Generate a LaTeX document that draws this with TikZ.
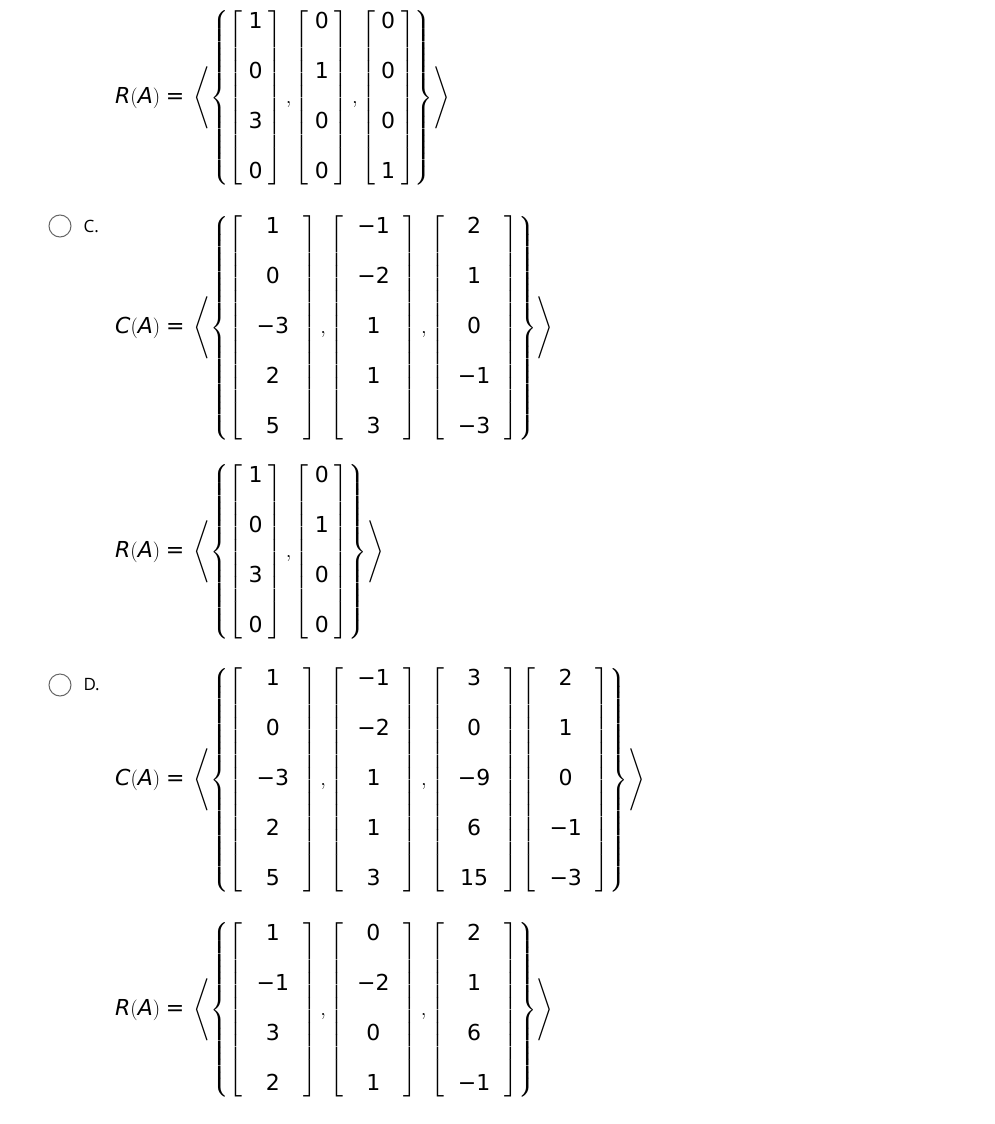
\documentclass[tikz,border=0pt]{standalone}
\usepackage{amsmath}
\usepackage{fontspec}
\setmainfont{DejaVu Sans}
\newfontfamily\labfont{Open Sans}
\newcommand{\tx}[1]{\text{#1}}
\newcommand{\mm}{\text{−}}
\newlength{\vpad}
\newcommand{\rs}{\\[24pt]}
\newcommand{\vm}[1]{\left[\begin{array}{@{\hspace{\vpad}}c@{\hspace{\vpad}}}#1\end{array}\right]}
\newcommand{\expr}[3]{\setlength{\vpad}{#3}$\displaystyle \textit{#1}(\textit{A}) \;\tx{=}\; \left\langle\left\{#2\right\}\right\rangle$}
\begin{document}
\begin{tikzpicture}[x=1pt,y=-1pt,font=\fontsize{22}{26}\selectfont,
  radio/.style={draw=black!60,line width=1pt,circle,minimum size=22pt,inner sep=0pt},
  lab/.style={font=\fontsize{17}{20}\labfont,anchor=west},
  ex/.style={anchor=west,inner sep=0pt}]
\useasboundingbox (0,0) rectangle (994,1124);
\node[ex] (r1) at (115,98) {\expr{R}{
 \vm{\tx{1}\rs\tx{0}\rs\tx{3}\rs\tx{0}},
 \vm{\tx{0}\rs\tx{1}\rs\tx{0}\rs\tx{0}},
 \vm{\tx{0}\rs\tx{0}\rs\tx{0}\rs\tx{1}}}{6pt}};
\node[radio] (oc) at (60,226) {};
\node[lab] (lc) at (80,226) {C.};
\node[ex] (c1) at (115,328) {\expr{C}{
 \vm{\tx{1}\rs\tx{0}\rs\mm\tx{3}\rs\tx{2}\rs\tx{5}},
 \vm{\mm\tx{1}\rs\mm\tx{2}\rs\tx{1}\rs\tx{1}\rs\tx{3}},
 \vm{\tx{2}\rs\tx{1}\rs\tx{0}\rs\mm\tx{1}\rs\mm\tx{3}}}{14pt}};
\node[ex] (r2) at (115,552) {\expr{R}{
 \vm{\tx{1}\rs\tx{0}\rs\tx{3}\rs\tx{0}},
 \vm{\tx{0}\rs\tx{1}\rs\tx{0}\rs\tx{0}}}{6pt}};
\node[radio] (od) at (60,685) {};
\node[lab] (ld) at (80,685) {D.};
\node[ex] (c2) at (115,780) {\expr{C}{
 \vm{\tx{1}\rs\tx{0}\rs\mm\tx{3}\rs\tx{2}\rs\tx{5}},
 \vm{\mm\tx{1}\rs\mm\tx{2}\rs\tx{1}\rs\tx{1}\rs\tx{3}},
 \vm{\tx{3}\rs\tx{0}\rs\mm\tx{9}\rs\tx{6}\rs\tx{15}}
 \vm{\tx{2}\rs\tx{1}\rs\tx{0}\rs\mm\tx{1}\rs\mm\tx{3}}}{14pt}};
\node[ex] (r3) at (115,1010) {\expr{R}{
 \vm{\tx{1}\rs\mm\tx{1}\rs\tx{3}\rs\tx{2}},
 \vm{\tx{0}\rs\mm\tx{2}\rs\tx{0}\rs\tx{1}},
 \vm{\tx{2}\rs\tx{1}\rs\tx{6}\rs\mm\tx{1}}}{14pt}};
\end{tikzpicture}
\end{document}
